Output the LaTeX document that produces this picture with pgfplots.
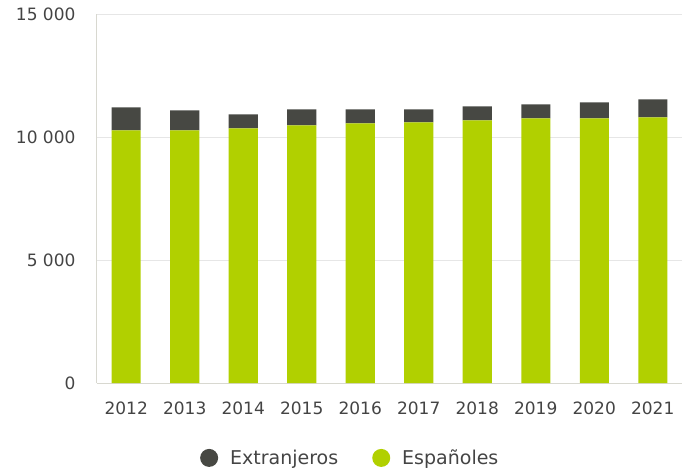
\documentclass[border=0pt]{standalone}
\usepackage{fontspec}
\setmainfont{DejaVu Sans}
\usepackage{pgfplots}
\pgfplotsset{compat=1.18}
\definecolor{esp}{HTML}{B1D000}
\definecolor{ext}{HTML}{474843}
\definecolor{txt}{HTML}{444444}
\definecolor{axln}{HTML}{D8D8D0}
\definecolor{grd}{HTML}{E6E6E6}
\begin{document}
\begin{tikzpicture}
\path[use as bounding box] (-97pt,-89pt) rectangle (585pt,383pt);
\begin{axis}[
  scale only axis,
  width=585pt, height=369pt,
  ybar stacked,
  bar width=29pt,
  xmin=-0.5, xmax=9.5,
  ymin=0, ymax=15000,
  axis lines*=left,
  axis line style={axln, line width=1pt},
  xtick={0,...,9},
  xticklabels={2012,2013,2014,2015,2016,2017,2018,2019,2020,2021},
  x tick style={draw=none},
  extra x ticks={-0.5,0.5,...,9.5},
  extra x tick labels={},
  extra x tick style={tick style={draw=axln, line width=1pt}, major tick length=7pt, tick align=outside, grid=none},
  ytick={0,5000,10000,15000},
  scaled y ticks=false,
  y tick style={draw=none},
  ymajorgrids,
  major grid style={grd, line width=1pt},
  /pgf/number format/assume math mode=true,
  /pgf/number format/1000 sep={\ },
  tick label style={font=\fontsize{17}{20}\selectfont, text=txt},
  xticklabel style={yshift=-15pt},
  yticklabel style={xshift=-18pt},
  reverse legend,
  legend columns=2,
  legend style={at={(rel axis cs:0.176,-0.203)}, anchor=west, draw=none, fill=none, inner sep=0pt,
    font=\fontsize{19}{22}\selectfont, text=txt,
    /tikz/every even column/.append style={column sep=32pt}},
]
\addplot[fill=esp, draw=none, legend image code/.code={\fill[esp] (9pt,0pt) circle (9pt); \path (0pt,0pt) (28pt,0pt);}] coordinates {
(0,10270) (1,10270) (2,10350) (3,10470) (4,10550) (5,10595) (6,10675) (7,10755) (8,10755) (9,10795)};
\addplot[fill=ext, draw=none, legend image code/.code={\fill[ext] (9pt,0pt) circle (9pt); \path (0pt,0pt) (28pt,0pt);}] coordinates {
(0,938) (1,816) (2,572) (3,653) (4,572) (5,531) (6,571) (7,571) (8,653) (9,735)};
\legend{Españoles,Extranjeros}
\end{axis}
\end{tikzpicture}
\end{document}
